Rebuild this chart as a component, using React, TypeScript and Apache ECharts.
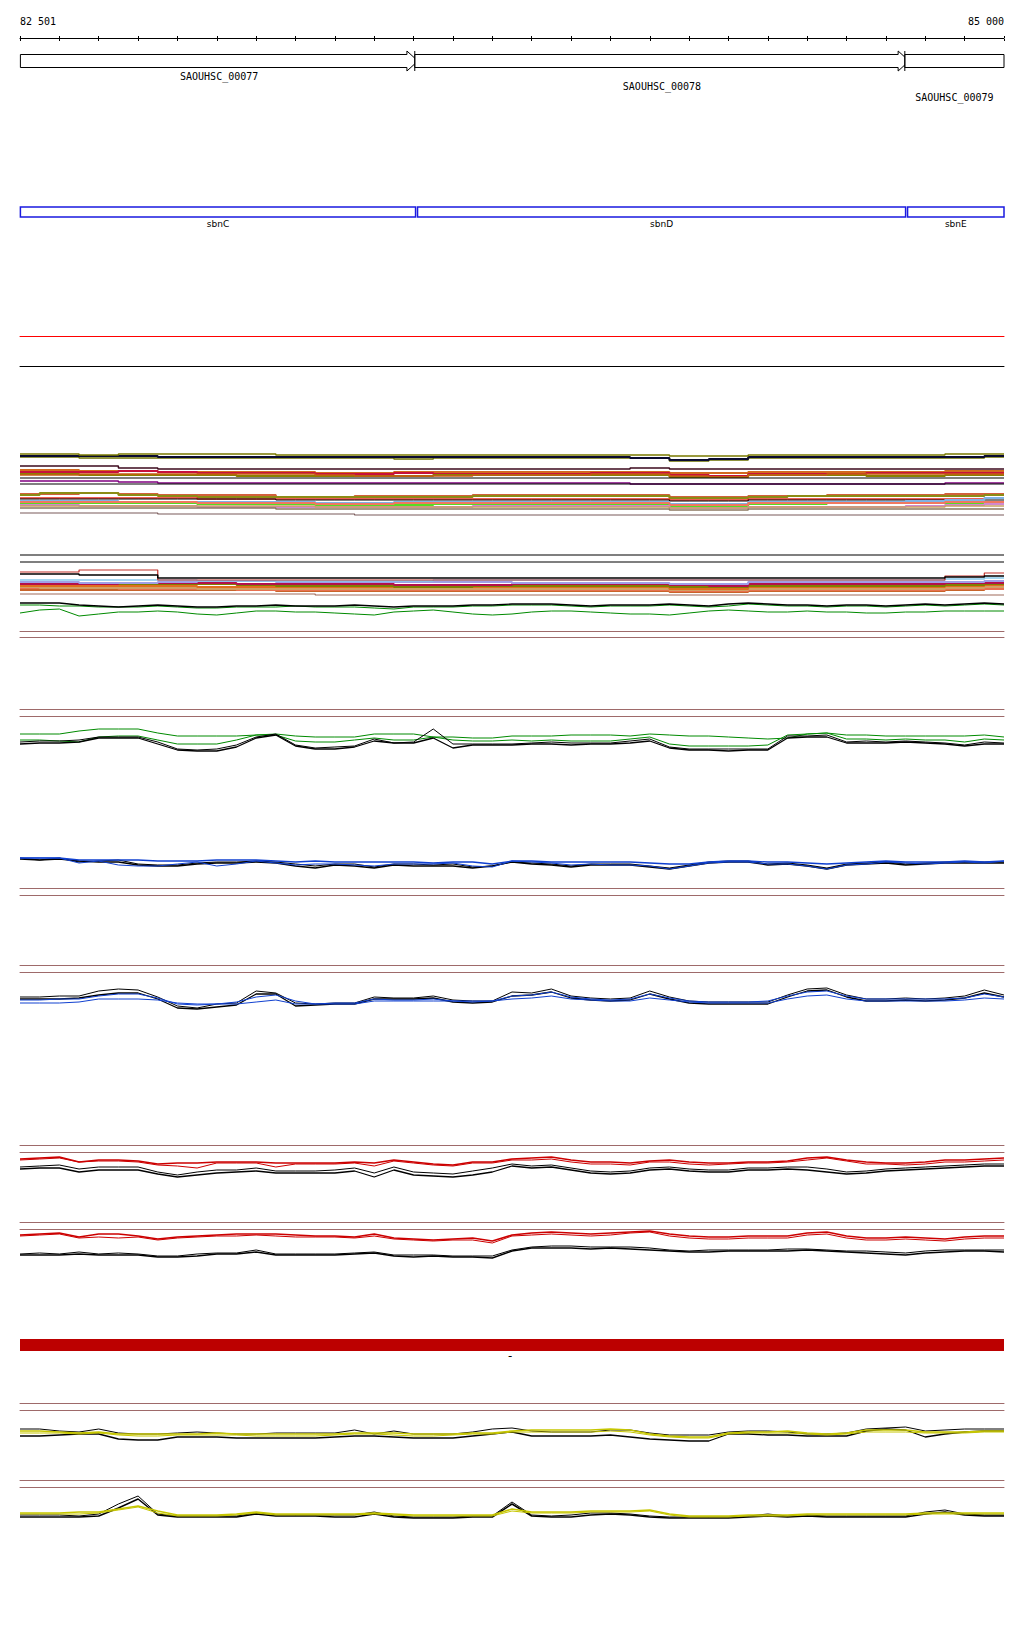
import React, { useEffect, useRef } from "react";
import * as echarts from "echarts";

// ---------- view / ruler ----------
const VIEW_START = 82501;
const VIEW_END = 85000;
const AXIS_MIN = 82500;
const TICK_STEP = 100;

// ---------- gene models ----------
const GENE_NAMES = ["SAOUHSC_00077", "SAOUHSC_00078", "SAOUHSC_00079"];
const GENE_STARTS = [82501, 83503, 84748];
const GENE_ENDS = [83511, 84759, 85000];
const GENE_ROWS = [0, 1, 2];
const GENE_ARROW = [1, 1, 0];

// ---------- features ----------
const FEATURE_NAMES = ["sbnC", "sbnD", "sbnE"];
const FEATURE_STARTS = [82501, 83510, 84755];
const FEATURE_ENDS = [83505, 84750, 85000];

// ---------- region ----------
const REGION_STARTS = [82501];
const REGION_ENDS = [85000];
const REGION_STRANDS = ["-"];

// ---------- sample positions ----------
const POS = [82500, 82550, 82600, 82650, 82700, 82750, 82800, 82850, 82900, 82950, 83000, 83050, 83100, 83150, 83200, 83250, 83300, 83350, 83400, 83450, 83500, 83550, 83600, 83650, 83700, 83750, 83800, 83850, 83900, 83950, 84000, 84050, 84100, 84150, 84200, 84250, 84300, 84350, 84400, 84450, 84500, 84550, 84600, 84650, 84700, 84750, 84800, 84850, 84900, 84950, 85000];
const POS100 = [82500, 82600, 82700, 82800, 82900, 83000, 83100, 83200, 83300, 83400, 83500, 83600, 83700, 83800, 83900, 84000, 84100, 84200, 84300, 84400, 84500, 84600, 84700, 84800, 84900, 85000];

// ---------- dense track A (26 values) ----------
const A1 = [66,66,65,66,66,66,66,65,65,65,65,65,65,65,65,65,65,64,64,65,65,65,65,65,66,66];
const A2 = [64,64,64,64,63,63,63,63,63,63,63,63,63,63,63,63,62,60,61,63,63,63,63,63,63,64];
const A3 = [63,63,62,62,62,62,62,62,62,62,61,62,62,62,62,62,62,59,60,62,62,62,62,62,62,63];
const A4 = [54,54,54,52,51,51,51,51,51,51,51,51,51,51,51,51,52,51,51,51,51,51,51,51,51,51];
const A5 = [50,50,49,49,48,48,48,48,47,47,48,48,48,48,48,48,48,47,47,48,48,48,48,48,49,49];
const A6 = [48,48,48,49,48,47,47,47,46,46,47,46,46,46,46,47,47,45,44,46,46,46,47,47,47,47];
const A7 = [46,46,45,45,45,45,44,44,44,44,44,45,45,45,45,45,45,43,43,45,45,45,44,44,45,45];
const A8 = [45,45,46,46,46,46,46,46,45,44,44,44,45,45,45,46,46,44,43,45,45,46,46,46,46,46];
const A9 = [42,42,42,42,42,42,42,42,42,42,42,42,42,42,42,42,42,42,42,42,42,42,42,42,42,42];
const A10 = [39,39,39,38,37,37,37,37,37,37,37,37,37,37,37,37,36,36,36,36,36,36,36,36,37,37];
const A11 = [36,36,36,36,36,36,36,36,36,36,36,36,36,36,36,36,36,36,36,36,36,36,36,36,36,36];
const A12 = [26,26,27,26,25,25,25,23,23,24,24,24,25,25,25,25,25,23,23,24,24,25,25,25,26,26];
const A13 = [25,27,27,25,24,23,23,23,23,23,23,23,24,24,24,24,24,22,22,23,24,24,24,24,24,25];
const A14 = [22,22,22,22,22,21,21,21,21,21,21,21,21,21,21,21,21,20,20,21,21,21,21,21,21,22];
const A15 = [21,21,21,21,21,21,21,20,20,20,20,20,20,20,20,20,20,19,19,20,20,20,20,20,20,20];
const A16 = [19,19,19,18,18,18,18,18,17,17,18,18,18,18,18,18,18,16,16,18,18,18,18,19,20,22];
const A17 = [17,17,17,17,17,16,16,16,15,15,15,16,16,16,16,16,16,14,14,16,16,17,17,17,17,18];
const A18 = [18,18,18,18,18,17,17,17,16,16,17,17,17,17,17,17,17,15,15,17,17,17,17,17,18,18];
const A19 = [15,15,14,14,14,13,13,13,13,13,13,13,14,14,14,14,14,12,12,13,13,13,13,14,15,16];
const A20 = [14,14,14,14,14,14,14,14,13,13,13,13,13,13,13,13,13,12,12,13,13,13,13,13,14,14];
const A21 = [12,12,12,12,12,12,12,11,11,11,11,11,11,11,11,11,11,10,10,11,11,11,11,11,11,11];
const A22 = [7,7,7,7,6,6,6,6,6,5,5,5,5,5,5,5,5,5,5,5,5,5,5,5,5,5];

// ---------- dense track B (26 values) ----------
const B1 = [67,67,67,67,67,67,67,67,67,67,67,67,67,67,67,67,67,67,67,67,67,67,67,67,67,67];
const B2 = [60,60,60,60,60,60,60,60,60,60,60,60,60,60,60,60,60,60,60,60,60,60,60,60,60,60];
const B3 = [50,50,52,52,42,42,42,42,42,42,42,42,42,42,42,42,42,42,42,42,42,42,42,42,46,49];
const B4 = [48,48,47,47,44,44,44,44,44,44,44,44,44,44,44,44,44,44,44,44,44,44,44,44,45,46];
const B5 = [42,42,42,42,42,41,41,41,41,41,41,42,42,42,42,42,42,42,42,42,42,42,42,42,43,44];
const B6 = [40,40,39,39,40,41,41,40,40,40,40,40,40,39,39,39,39,38,38,40,40,40,40,40,40,41];
const B7 = [38,38,38,39,39,39,38,38,38,38,37,37,37,38,38,38,38,37,36,38,38,38,38,38,39,39];
const B8 = [40,39,39,38,38,38,37,36,36,36,35,35,36,36,36,36,36,35,35,36,36,36,36,36,37,38];
const B9 = [36,36,36,36,36,35,35,35,35,35,35,35,35,35,35,35,35,33,33,35,35,35,35,35,36,37];
const B10 = [35,34,34,34,34,33,33,33,33,33,33,33,33,33,33,33,33,32,32,33,33,33,33,33,34,35];
const B11 = [34,34,34,33,33,33,32,32,32,32,32,32,32,32,32,32,32,31,31,32,32,32,32,32,33,33];
const B12 = [32,32,32,32,32,32,32,31,31,31,31,31,31,31,31,31,31,30,30,31,31,31,31,31,32,33];
const B14 = [28,28,28,28,28,28,28,28,27,27,27,27,27,27,27,27,27,27,27,27,27,27,27,27,27,27];
// wiggly lines of track B (51 values)
const BW_BLACK = [19,19,19,17,16,15,16,17,16,15,15,16,16,17,16,16,16,17,16,15,16,16,16,17,17,18, 18,18,17,16,17,17,17,18,17,16,18,19,18,17,17,16,17,17,16,17,18,17,18,19,18];
const BW_GREEN_HI = [17,17,16,16,15,15,15,16,15,14,14,15,15,15,16,15,15,15,14,13,15,15,15,16,16,17, 17,17,16,15,16,16,16,17,16,15,16,18,17,16,16,15,16,16,15,16,17,16,17,18,17];
const BW_GREEN_LO = [9,12,13,6,8,10,10,11,10,8,7,9,11,11,10,10,9,8,7,10,11,12,10,8,7,8, 10,11,11,10,9,8,8,7,9,11,12,11,10,10,11,10,10,9,9,10,10,11,11,11,11];

// ---------- track C (green / black) ----------
const C_GREEN_HI = [26,26,26,29,31,31,31,27,24,24,24,24,25,26,24,23,23,23,26,26,26,23,23,22,22,24, 24,24,25,25,25,24,26,25,24,24,23,22,21,22,26,27,25,25,24,24,24,24,24,25,23];
const C_GREEN_LO = [20,20,19,18,23,24,24,20,16,16,16,20,25,25,19,18,18,20,22,20,20,23,20,19,19,20, 19,20,19,19,19,21,23,16,14,14,14,14,15,25,26,27,21,21,20,21,20,20,18,21,20];
const C_BLACK_HI = [18,19,19,20,23,23,23,18,11,10,11,15,23,26,15,12,13,14,21,17,18,31,16,16,16,16, 17,18,17,17,17,19,21,13,11,11,11,11,11,24,24,25,18,19,18,19,18,17,15,18,17];
const C_BLACK_LO = [16,17,17,18,22,22,22,16,10,9,9,13,22,25,14,11,11,13,19,17,17,22,12,15,15,15, 16,16,15,16,16,17,19,12,10,10,9,10,10,22,23,23,17,17,17,18,17,16,14,16,16];

// ---------- track D (blue / black) ----------
const D_BLACK_HI = [17,15,17,13,14,15,11,10,10,12,13,13,14,13,11,9,11,11,8,11,11,10,11,8,9,13, 12,11,9,11,11,11,9,7,10,13,14,14,11,12,10,7,11,12,13,11,12,13,13,13,13];
const D_BLUE_HI = [17,17,17,15,15,15,15,14,14,14,15,15,15,14,13,14,13,13,13,13,13,12,13,13,11,14, 14,13,13,13,13,13,12,11,11,13,14,14,13,13,12,11,12,13,14,13,13,13,14,13,14];
const D_BLUE_LO = [17,17,17,12,14,10,9,9,11,13,9,11,14,12,10,11,11,10,9,11,11,11,12,9,8,14, 13,12,10,11,10,10,9,6,9,12,13,13,11,11,9,6,10,11,13,12,11,12,13,12,14];
const D_BLACK_LO = [16,15,16,14,13,13,10,9,9,11,12,12,13,12,9,7,10,9,7,10,9,9,9,7,9,13, 11,10,8,10,10,10,8,6,9,12,13,13,10,11,9,6,10,11,12,10,11,12,12,12,12];

// ---------- track E (blue / black) ----------
const E_BLACK_HI = [18,18,19,19,24,26,25,18,9,7,11,12,24,22,12,11,12,12,18,17,17,19,15,14,14,23, 22,26,19,17,16,17,24,18,14,13,13,13,13,20,26,27,20,16,16,17,16,17,19,25,20];
const E_BLACK_LO = [16,16,16,17,20,22,22,16,7,6,8,10,21,21,9,10,11,11,16,16,16,17,13,12,13,19, 20,23,17,15,14,15,21,16,12,11,11,11,11,18,24,25,18,14,14,15,14,15,17,22,18];
const E_BLUE_HI = [15,15,16,16,19,21,21,17,11,10,11,13,18,20,14,11,12,12,16,15,15,16,14,13,14,19, 20,23,18,16,15,16,21,17,14,13,13,13,14,19,23,24,19,16,16,16,16,16,17,21,18];
const E_BLUE_LO = [12,12,12,13,16,16,16,15,12,11,11,11,13,15,11,11,11,11,14,14,14,14,14,14,14,16, 17,19,16,15,14,14,17,15,13,12,12,12,12,16,19,20,16,14,14,14,14,14,15,17,16];

// ---------- track F (red / black) ----------
const F_RED_HI = [24,25,26,21,23,23,22,19,20,20,21,21,21,20,20,20,20,21,20,23,21,19,18,21,21,24, 25,26,23,21,21,20,22,23,21,20,20,21,21,22,25,26,23,21,20,20,21,23,23,24,25];
const F_RED_LO = [23,24,25,21,22,22,21,18,17,15,20,20,20,16,19,19,19,20,17,22,20,18,17,20,20,23, 23,24,21,19,19,18,21,21,19,18,19,20,20,21,23,25,22,19,19,18,19,21,21,22,23];
const F_BLACK_HI = [16,17,18,14,16,16,16,11,8,11,13,13,15,12,12,12,13,15,10,16,11,10,9,12,15,19, 17,18,15,12,11,12,15,16,14,13,13,15,15,16,16,14,11,12,14,15,16,17,18,19,19];
const F_BLACK_LO = [14,15,15,11,13,13,13,9,6,8,10,11,12,10,10,10,10,12,6,13,8,7,6,8,11,17, 15,16,13,10,9,10,13,14,12,11,11,13,13,14,13,11,9,10,12,13,14,15,16,17,17];

// ---------- track G (red / black) ----------
const G_RED_HI = [27,28,29,25,28,28,26,23,25,26,27,28,28,28,27,26,26,25,28,24,23,22,23,24,21,27, 29,30,29,28,29,30,31,28,26,25,25,26,26,26,29,30,26,24,24,25,24,23,25,26,26];
const G_RED_LO = [26,27,28,24,25,24,25,22,24,25,26,26,27,26,25,25,25,24,26,23,22,21,22,22,19,26, 27,28,27,26,27,29,30,26,24,23,23,24,24,24,27,28,24,22,22,23,22,21,23,24,24];
const G_BLACK_HI = [8,9,8,10,8,9,8,6,6,8,9,9,12,8,8,8,8,9,10,7,7,7,6,6,6,12, 15,16,16,15,15,15,14,12,11,12,12,12,12,13,13,12,11,11,10,9,11,12,12,12,12];
const G_BLACK_LO = [7,7,7,8,7,7,7,5,5,6,8,8,10,7,7,7,7,8,9,6,5,6,5,5,4,11, 14,14,14,13,14,13,12,11,10,10,11,11,11,11,12,11,10,9,8,7,9,10,11,11,10];

// ---------- track H (yellow / black) ----------
const H_BLACK_HI = [16,16,14,13,16,12,11,11,12,13,12,11,11,12,12,12,12,15,11,14,11,11,11,13,16,17, 14,13,13,13,15,15,12,10,10,10,13,14,14,13,11,11,12,16,17,18,14,15,16,16,16];
const H_BLACK_LO = [9,9,10,11,11,6,5,5,8,8,8,7,7,7,7,7,8,9,9,8,7,7,7,9,11,13, 9,9,9,9,10,8,6,5,4,4,11,11,10,10,9,9,9,14,16,15,8,11,13,14,14];
const H_YEL_HI = [14,14,13,12,13,11,11,11,11,11,12,11,11,11,11,11,11,12,12,12,11,11,11,12,12,14, 15,15,15,15,16,15,11,9,8,8,12,13,13,14,12,11,12,15,15,15,13,13,13,14,14];
const H_YEL_LO = [12,12,12,11,12,10,9,9,10,10,10,10,9,9,9,9,10,11,11,10,9,9,10,11,11,13, 13,13,13,13,14,13,10,8,7,7,11,12,12,12,11,10,11,13,13,13,12,12,12,13,13];

// ---------- track I (yellow / black) ----------
const I_BLACK_HI = [5,5,5,4,6,16,24,6,4,4,4,4,7,5,5,5,5,5,8,4,3,3,3,4,4,18, 5,4,5,7,7,6,4,3,3,3,3,4,6,4,5,4,4,4,4,4,8,10,6,5,5];
const I_BLACK_LO = [3,3,3,3,4,12,21,5,3,3,3,3,6,4,4,4,3,3,6,3,2,2,2,3,3,16, 4,3,3,5,6,5,3,2,2,2,2,3,4,3,4,3,3,3,3,3,6,8,5,4,4];
const I_YEL_HI = [7,7,7,8,8,11,14,9,5,5,5,6,8,6,6,6,6,6,7,6,5,5,5,5,5,11, 8,8,8,9,9,9,10,6,4,4,4,5,5,5,6,6,6,6,6,6,7,7,7,7,7];
const I_YEL_LO = [6,6,6,6,7,10,13,7,4,4,4,5,7,5,5,5,5,5,6,5,4,4,4,4,4,9, 7,7,7,8,8,8,9,5,3,3,3,4,4,4,5,5,5,5,5,5,6,6,6,6,6];

// ---------- colours ----------
const BROWN = "#9E6A6A";
const BLACK = "#000000";
const GREEN = "#008a00";
const BLUE = "#1040d0";
const RED = "#cc0000";
const YELLOW = "#c6c600";

const fmtBp = (v: number) => String(v).replace(/\B(?=(\d{3})+(?!\d))/g, " ");

function buildOption() {
  const grids: any[] = [];
  const xAxis: any[] = [];
  const yAxis: any[] = [];
  const series: any[] = [];

  const addTrack = (top: number, height: number) => {
    const gi = grids.length;
    grids.push({ left: 20, right: 20, top, height });
    xAxis.push({ type: "value", gridIndex: gi, min: AXIS_MIN, max: VIEW_END, show: false });
    const xi = xAxis.length - 1;
    yAxis.push({ type: "value", gridIndex: gi, min: 0, max: height, show: false });
    return { xi, yi: gi };
  };

  const addRule = (top: number, height: number, topColor: string, bottomColor: string) => {
    const gi = grids.length;
    grids.push({ left: 20, right: 20, top, height });
    const ax = (position: string, color: string) => ({
      type: "value", gridIndex: gi, min: AXIS_MIN, max: VIEW_END, position,
      axisLine: { show: true, onZero: false, lineStyle: { color, width: 1 } },
      axisTick: { show: false }, axisLabel: { show: false }, splitLine: { show: false },
    });
    xAxis.push(ax("top", topColor));
    xAxis.push(ax("bottom", bottomColor));
    yAxis.push({ type: "value", gridIndex: gi, min: 0, max: 1, show: false });
  };

  const addLine = (t: any, pos: number[], vals: number[], color: string, width = 1, step = false) => {
    series.push({
      type: "line", xAxisIndex: t.xi, yAxisIndex: t.yi,
      data: pos.map((p, i) => [p, vals[i]]),
      symbol: "none", showSymbol: false, step: step ? "middle" : false,
      lineStyle: { color, width }, clip: false, silent: true, z: 2,
    });
  };

  // ruler
  {
    const gi = grids.length;
    grids.push({ left: 20, right: 20, top: 38, height: 1 });
    xAxis.push({
      type: "value", gridIndex: gi, min: AXIS_MIN, max: VIEW_END, interval: TICK_STEP, position: "top",
      axisLine: { show: true, onZero: false, lineStyle: { color: BLACK, width: 1 } },
      axisTick: { show: true, length: 2, inside: false, lineStyle: { color: BLACK } },
      axisLabel: {
        show: true, margin: 12, color: BLACK, fontFamily: "DejaVu Sans Mono", fontSize: 10,
        showMinLabel: true, showMaxLabel: true, alignMinLabel: "left", alignMaxLabel: "right",
        formatter: (v: number) => (v === AXIS_MIN ? fmtBp(VIEW_START) : v === VIEW_END ? fmtBp(VIEW_END) : ""),
      },
      splitLine: { show: false },
    });
    xAxis.push({
      type: "value", gridIndex: gi, min: AXIS_MIN, max: VIEW_END, interval: TICK_STEP, position: "bottom",
      axisLine: { show: false, onZero: false },
      axisTick: { show: true, length: 2, inside: false, lineStyle: { color: BLACK } },
      axisLabel: { show: false }, splitLine: { show: false },
    });
    yAxis.push({ type: "value", gridIndex: gi, min: 0, max: 1, show: false });
  }

  // genes
  {
    const t = addTrack(51, 20);
    const LEVEL = 10;
    series.push({
      type: "custom", xAxisIndex: t.xi, yAxisIndex: t.yi, silent: true,
      encode: { x: [0, 1], y: 2 },
      data: GENE_STARTS.map((s, i) => [s, GENE_ENDS[i], GENE_ROWS[i], GENE_ARROW[i]]),
      renderItem: (params: any, api: any) => {
        const i = params.dataIndex;
        const s = api.value(0), e = Math.min(api.value(1), VIEW_END);
        const row = api.value(2), arrow = api.value(3);
        const p0 = api.coord([Math.max(s, AXIS_MIN), LEVEL]);
        const p1 = api.coord([e, LEVEL]);
        const x0 = p0[0], x1 = p1[0], yc = p0[1];
        const h = 6.5, H = 10, a = 11;
        const children: any[] = [];
        const pts = arrow
          ? [[x0, yc - h], [x1 - a, yc - h], [x1 - a, yc - H], [x1, yc], [x1 - a, yc + H], [x1 - a, yc + h], [x0, yc + h]]
          : [[x0, yc - h], [x1, yc - h], [x1, yc + h], [x0, yc + h]];
        children.push({ type: "polygon", shape: { points: pts }, style: { fill: "#fff", stroke: BLACK, lineWidth: 1 } });
        if (s > VIEW_START) {
          children.push({ type: "line", shape: { x1: x0, y1: yc - H, x2: x0, y2: yc + H }, style: { stroke: BLACK, lineWidth: 1 } });
        }
        children.push({
          type: "text", x: (x0 + x1) / 2, y: yc + 15 + row * 10.5,
          style: { text: GENE_NAMES[i], align: "center", verticalAlign: "middle", fontFamily: "DejaVu Sans Mono", fontSize: 10, fill: BLACK },
        });
        return { type: "group", children };
      },
    });
  }

  // features
  {
    const t = addTrack(202, 20);
    const LEVEL = 10;
    series.push({
      type: "custom", xAxisIndex: t.xi, yAxisIndex: t.yi, silent: true,
      encode: { x: [0, 1] },
      data: FEATURE_STARTS.map((s, i) => [s, FEATURE_ENDS[i]]),
      renderItem: (params: any, api: any) => {
        const i = params.dataIndex;
        const p0 = api.coord([api.value(0), LEVEL]);
        const p1 = api.coord([api.value(1), LEVEL]);
        const x0 = p0[0], x1 = p1[0], yc = p0[1];
        return {
          type: "group",
          children: [
            { type: "rect", shape: { x: x0, y: yc - 5, width: x1 - x0, height: 10 }, style: { fill: "none", stroke: "#1a1ae0", lineWidth: 1.5 } },
            { type: "text", x: (x0 + x1) / 2, y: yc + 12, style: { text: FEATURE_NAMES[i], align: "center", verticalAlign: "middle", fontFamily: "DejaVu Sans", fontSize: 9, fill: BLACK } },
          ],
        };
      },
    });
  }

  // red / black rules
  addRule(336, 30, "#ff0000", BLACK);

  // dense track A
  {
    const t = addTrack(445, 75);
    const lines: [number[], string, number][] = [
      [A4, "#3d0a1e", 1.5], [A5, "#d2691e", 2], [A6, "#c8103c", 2], [A7, "#8b8000", 2], [A8, "#c85a14", 1.5],
      [A9, BLACK, 1.2], [A10, "#800080", 1.5], [A11, BLACK, 1.2], [A12, "#d2603c", 2], [A13, "#8c8c14", 2],
      [A14, "#e8281e", 1.5], [A15, BLACK, 1], [A16, "#7fb2e5", 2], [A17, "#55dd22", 2], [A18, "#f07860", 2],
      [A19, "#d088d0", 2], [A20, "#c8a064", 1.5], [A21, "#8c7860", 1.5], [A22, "#7a5a5a", 1.2],
      [A3, "#6b7000", 1.5], [A2, "#0a0a30", 2], [A1, "#7a7a00", 1.5],
    ];
    lines.forEach(([v, c, w]) => addLine(t, POS100, v, c, w, true));
  }

  // dense track B
  {
    const t = addTrack(548, 74);
    const lines: [number[], string, number][] = [
      [B1, BLACK, 1.2], [B2, BLACK, 1.2], [B14, "#a06a5a", 1.2], [B12, "#c8642a", 2], [B11, "#e87050", 2],
      [B10, "#d2a064", 2], [B9, "#e06e1e", 2], [B8, "#808000", 2], [B7, "#b4104b", 2], [B6, "#a0a0e6", 2],
      [B5, "#87c8eb", 1.5], [B3, "#c0302a", 1.2], [B4, BLACK, 1.5],
    ];
    lines.forEach(([v, c, w]) => addLine(t, POS100, v, c, w, true));
    addLine(t, POS, BW_GREEN_LO, GREEN, 1);
    addLine(t, POS, BW_GREEN_HI, GREEN, 1);
    addLine(t, POS, BW_BLACK, BLACK, 1.4);
  }

  // separators
  const SEPARATORS: [number, number][] = [[631, 637], [709, 716], [888, 895], [965, 972], [1145, 1152], [1222, 1229], [1403, 1410], [1480, 1487]];
  SEPARATORS.forEach(([a, b]) => addRule(a, b - a, BROWN, BROWN));

  // track C
  {
    const t = addTrack(720, 40);
    addLine(t, POS, C_GREEN_HI, GREEN);
    addLine(t, POS, C_GREEN_LO, GREEN);
    addLine(t, POS, C_BLACK_HI, BLACK);
    addLine(t, POS, C_BLACK_LO, BLACK, 1.3);
  }
  // track D
  {
    const t = addTrack(850, 25);
    addLine(t, POS, D_BLACK_HI, BLACK);
    addLine(t, POS, D_BLACK_LO, BLACK, 1.3);
    addLine(t, POS, D_BLUE_HI, BLUE, 1.3);
    addLine(t, POS, D_BLUE_LO, BLUE);
  }
  // track E
  {
    const t = addTrack(980, 35);
    addLine(t, POS, E_BLACK_HI, BLACK);
    addLine(t, POS, E_BLACK_LO, BLACK, 1.3);
    addLine(t, POS, E_BLUE_HI, BLUE);
    addLine(t, POS, E_BLUE_LO, BLUE);
  }
  // track F
  {
    const t = addTrack(1153, 30);
    addLine(t, POS, F_BLACK_HI, BLACK);
    addLine(t, POS, F_BLACK_LO, BLACK, 1.3);
    addLine(t, POS, F_RED_LO, RED);
    addLine(t, POS, F_RED_HI, RED, 1.6);
  }
  // track G
  {
    const t = addTrack(1230, 32);
    addLine(t, POS, G_BLACK_HI, BLACK);
    addLine(t, POS, G_BLACK_LO, BLACK, 1.5);
    addLine(t, POS, G_RED_LO, RED);
    addLine(t, POS, G_RED_HI, RED, 1.6);
  }
  // region bar
  {
    const t = addTrack(1339, 12);
    series.push({
      type: "custom", xAxisIndex: t.xi, yAxisIndex: t.yi, silent: true,
      encode: { x: [0, 1] },
      data: REGION_STARTS.map((s, i) => [s, REGION_ENDS[i]]),
      renderItem: (params: any, api: any) => {
        const i = params.dataIndex;
        const p0 = api.coord([Math.max(api.value(0) - 1, AXIS_MIN), 12]);
        const p1 = api.coord([api.value(1), 0]);
        return {
          type: "group",
          children: [
            { type: "rect", shape: { x: p0[0], y: p0[1], width: p1[0] - p0[0], height: p1[1] - p0[1] }, style: { fill: "#bc0000" } },
            { type: "text", x: (p0[0] + p1[0]) / 2 - 2, y: p1[1] + 5, style: { text: REGION_STRANDS[i], align: "center", verticalAlign: "middle", fontFamily: "DejaVu Sans Mono", fontSize: 12, fill: BLACK } },
          ],
        };
      },
    });
  }
  // track H
  {
    const t = addTrack(1420, 25);
    addLine(t, POS, H_BLACK_HI, BLACK);
    addLine(t, POS, H_BLACK_LO, BLACK, 1.3);
    addLine(t, POS, H_YEL_LO, YELLOW);
    addLine(t, POS, H_YEL_HI, YELLOW, 1.6);
  }
  // track I
  {
    const t = addTrack(1490, 30);
    addLine(t, POS, I_BLACK_HI, BLACK);
    addLine(t, POS, I_BLACK_LO, BLACK, 1.5);
    addLine(t, POS, I_YEL_LO, YELLOW);
    addLine(t, POS, I_YEL_HI, YELLOW, 1.6);
  }

  return {
    animation: false,
    backgroundColor: "#ffffff",
    grid: grids,
    xAxis,
    yAxis,
    series,
  };
}

export default function App() {
  const ref = useRef<HTMLDivElement>(null);
  useEffect(() => {
    document.body.style.margin = "0";
    if (!ref.current) return;
    const chart = echarts.init(ref.current, null, { renderer: "svg" });
    chart.setOption(buildOption() as any);
    return () => chart.dispose();
  }, []);
  return <div ref={ref} style={{ width: 1024, height: 1640, background: "#fff" }} />;
}
